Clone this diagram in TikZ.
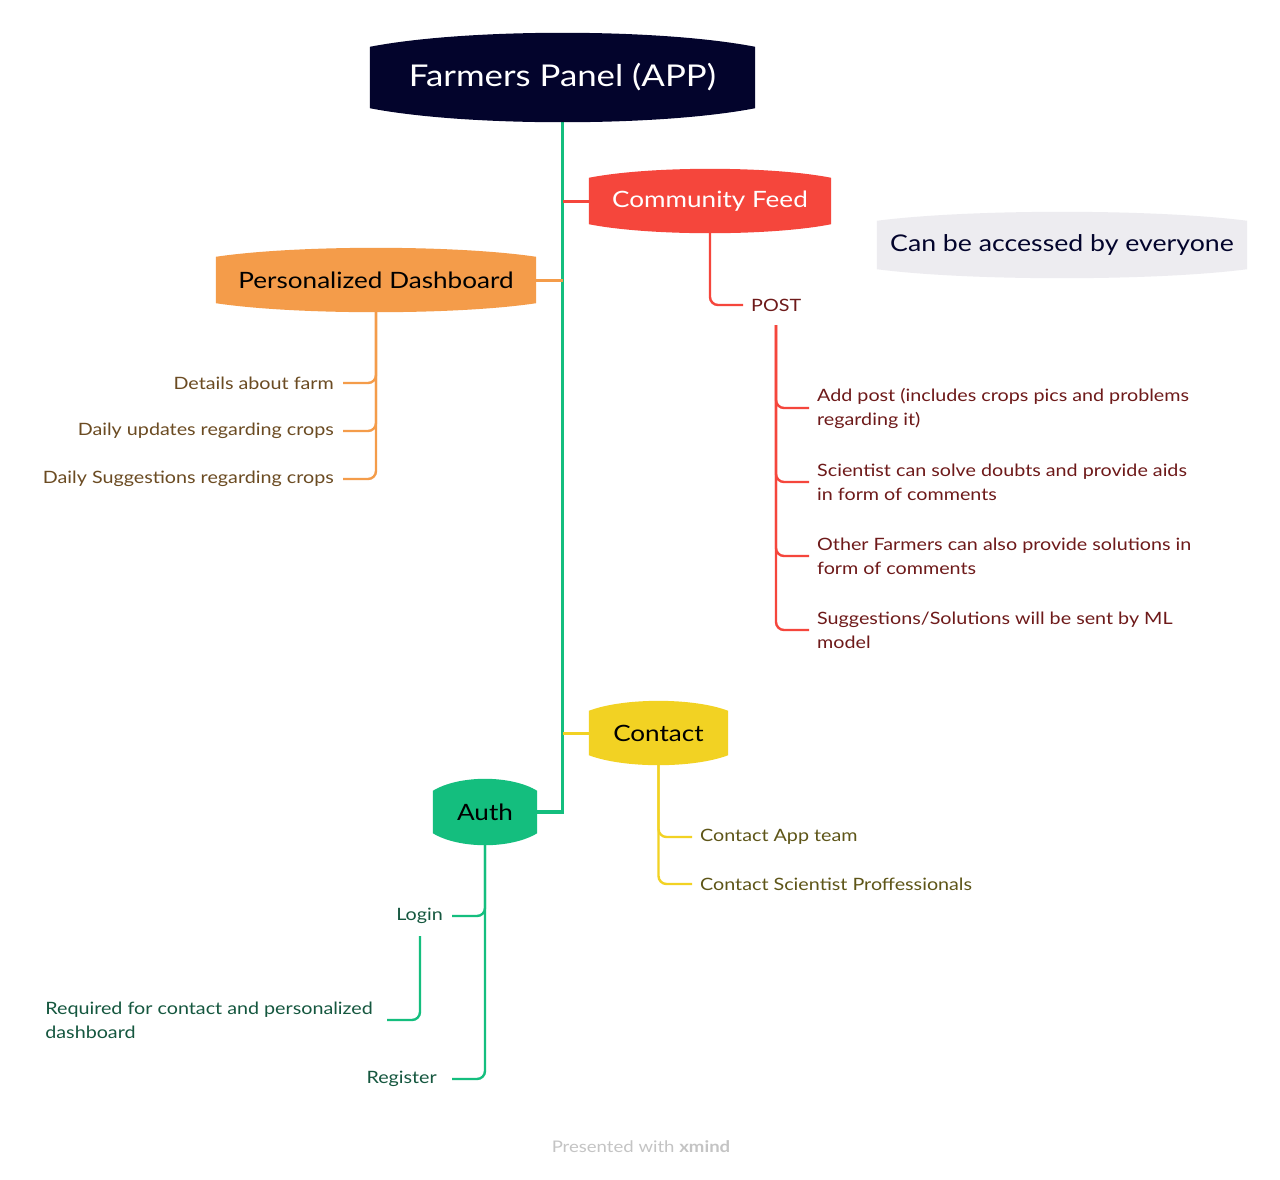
\documentclass[tikz,border=0pt]{standalone}
\usepackage{fontspec}
\setmainfont{Lato}[FakeStretch=1.16]
\usetikzlibrary{calc,backgrounds}
\definecolor{navy}{HTML}{03042C}
\definecolor{cfred}{HTML}{F5463C}
\definecolor{pdorange}{HTML}{F49C4A}
\definecolor{ctyellow}{HTML}{F2D223}
\definecolor{augreen}{HTML}{14BE7E}
\definecolor{notegray}{HTML}{EDECF0}
\definecolor{redtxt}{HTML}{6E1A1A}
\definecolor{orangetxt}{HTML}{6B4B22}
\definecolor{yellowtxt}{HTML}{5E5518}
\definecolor{greentxt}{HTML}{15573F}
\definecolor{footgray}{HTML}{C4C4C4}
\newcommand\bulgeshape[3]{%
  \fill[#2] (#1.north west)
    .. controls ($(#1.north west)!0.25!(#1.north east)+(0pt,#3)$) and ($(#1.north west)!0.75!(#1.north east)+(0pt,#3)$) .. (#1.north east)
    -- (#1.south east)
    .. controls ($(#1.south west)!0.75!(#1.south east)-(0pt,#3)$) and ($(#1.south west)!0.25!(#1.south east)-(0pt,#3)$) .. (#1.south west)
    -- cycle;}
\tikzset{
  topicbox/.style={inner sep=0pt, align=center},
  maintopic/.style={topicbox, minimum height=46pt, font=\fontsize{22.5}{26}\selectfont},
  leaf/.style={inner ysep=0pt, inner xsep=8pt, font=\fontsize{17}{24}\selectfont},
  trunkline/.style={draw=augreen, line width=3.5pt},
  branchline/.style={line width=3pt},
  leafline/.style={line width=2.4pt, rounded corners=8pt},
}
\begin{document}
\begin{tikzpicture}[x=1pt,y=-1pt]
\useasboundingbox (0,0) rectangle (1280,1179);
% nodes
\node[topicbox, minimum width=385pt, minimum height=61pt, text=white, font=\fontsize{30}{36}\selectfont] (title) at (562.5,77.5) {Farmers Panel (APP)};
\node[maintopic, minimum width=242pt, text=white] (cf) at (710,201) {Community Feed};
\node[maintopic, minimum width=320pt, text=black] (pd) at (376,280) {Personalized Dashboard};
\node[maintopic, minimum width=370pt, minimum height=48pt, text=navy, font=\fontsize{23}{26}\selectfont] (note) at (1062,245) {Can be accessed by everyone};
\node[maintopic, minimum width=139pt, minimum height=44pt, text=black] (ct) at (658.5,733) {Contact};
\node[maintopic, minimum width=104pt, minimum height=42pt, text=black] (auth) at (485,812) {Auth};

\node[leaf, text=redtxt, anchor=west] (post) at (743,305) {POST};
\coordinate (postdown) at (776,325);
\node[leaf, text=redtxt, anchor=west, align=left] (r1) at (809,408) {Add post (includes crops pics and problems\\regarding it)};
\node[leaf, text=redtxt, anchor=west, align=left] (r2) at (809,482) {Scientist can solve doubts and provide aids\\in form of comments};
\node[leaf, text=redtxt, anchor=west, align=left] (r3) at (809,556) {Other Farmers can also provide solutions in\\form of comments};
\node[leaf, text=redtxt, anchor=west, align=left] (r4) at (809,630) {Suggestions/Solutions will be sent by ML\\model};

\node[leaf, text=orangetxt, anchor=east, inner xsep=9pt] (o1) at (343,383) {Details about farm};
\node[leaf, text=orangetxt, anchor=east, inner xsep=9pt] (o2) at (343,431) {Daily updates regarding crops};
\node[leaf, text=orangetxt, anchor=east, inner xsep=9pt] (o3) at (343,479) {Daily Suggestions regarding crops};

\node[leaf, text=yellowtxt, anchor=west] (y1) at (692,837) {Contact App team};
\node[leaf, text=yellowtxt, anchor=west] (y2) at (692,884) {Contact Scientist Proffessionals};

\node[leaf, text=greentxt, anchor=east, inner xsep=9pt] (login) at (452,916) {Login};
\coordinate (loginbelow) at (420,936);
\node[leaf, text=greentxt, anchor=east, inner xsep=14pt, align=left] (req) at (387,1020) {Required for contact and personalized\\dashboard};
\node[leaf, text=greentxt, anchor=east, inner xsep=15pt] (reg) at (452,1079) {Register};

\node[text=footgray, font=\fontsize{16}{20}\selectfont] (foot) at (641,1147) {Presented with \textbf{xmind}};

\begin{pgfonlayer}{background}
\fill[white] (0,0) rectangle (1280,1179);
% connectors
\draw[trunkline] (title.south) -- (title.south |- auth.east) -- (auth.east);
\draw[branchline, draw=cfred] (title.south |- cf.west) -- (cf.west);
\draw[branchline, draw=pdorange] (title.south |- pd.east) -- (pd.east);
\draw[branchline, draw=ctyellow] (title.south |- ct.west) -- (ct.west);

\draw[leafline, draw=cfred] (cf.south) |- (post.west);
\draw[leafline, draw=cfred] (postdown) |- (r1.west);
\draw[leafline, draw=cfred] (postdown) |- (r2.west);
\draw[leafline, draw=cfred] (postdown) |- (r3.west);
\draw[leafline, draw=cfred] (postdown) |- (r4.west);

\draw[leafline, draw=pdorange] (pd.south) |- (o1.east);
\draw[leafline, draw=pdorange] (pd.south) |- (o2.east);
\draw[leafline, draw=pdorange] (pd.south) |- (o3.east);

\draw[leafline, draw=ctyellow] (ct.south) |- (y1.west);
\draw[leafline, draw=ctyellow] (ct.south) |- (y2.west);

\draw[leafline, draw=augreen] (auth.south) |- (login.east);
\draw[leafline, draw=augreen] (auth.south) |- (reg.east);
\draw[leafline, draw=augreen] (loginbelow) |- (req.east);

% shapes
\bulgeshape{title}{navy}{18.7pt}
\bulgeshape{cf}{cfred}{12pt}
\bulgeshape{pd}{pdorange}{12pt}
\bulgeshape{note}{notegray}{12pt}
\bulgeshape{ct}{ctyellow}{13.3pt}
\bulgeshape{auth}{augreen}{16pt}
\end{pgfonlayer}
\end{tikzpicture}
\end{document}
